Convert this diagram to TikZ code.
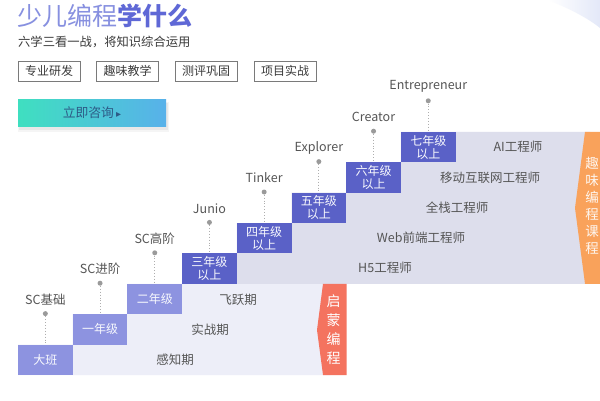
\documentclass[tikz,border=0pt]{standalone}
\usepackage{fontspec}
\setmainfont{Noto Sans CJK SC}
\newfontfamily\dejavu{DejaVu Sans}
\definecolor{titlelight}{HTML}{8790E0}
\definecolor{titledark}{HTML}{5F68D6}
\definecolor{subc}{HTML}{3A3A3A}
\definecolor{tagborder}{HTML}{7A7A7A}
\definecolor{btnL}{HTML}{3FDFC0}
\definecolor{btnR}{HTML}{58B1EA}
\definecolor{btntext}{HTML}{2D5A86}
\definecolor{stepL}{HTML}{8D93E0}
\definecolor{stepH}{HTML}{5A61C7}
\definecolor{bandL}{HTML}{EDEEF8}
\definecolor{bandH}{HTML}{DDDEEC}
\definecolor{salmon}{HTML}{F4735F}
\definecolor{orangeb}{HTML}{F9A25B}
\definecolor{labelc}{HTML}{555555}
\definecolor{dotc}{HTML}{9A9A9A}
\definecolor{decoc}{HTML}{E3E8F8}
\tikzset{
  tagbox/.style={draw=tagborder, line width=0.8pt, minimum width=62pt, minimum height=20pt, inner sep=0, text=subc, font=\fontsize{12}{13}\selectfont},
  lowstep/.style={fill=stepL, minimum width=54.7pt, minimum height=30.4pt, inner sep=0, text=white!94!stepL, font=\fontsize{12}{13}\selectfont, align=center},
  highstep/.style={lowstep, fill=stepH},
  lvl/.style={font=\fontsize{12.5}{14}\selectfont, text=labelc, inner sep=0},
  pin/.style={circle, fill=dotc, inner sep=0, minimum size=5pt},
  conn/.style={draw=dotc!80, dotted, line width=0.9pt},
  bandtext/.style={font=\fontsize{12.5}{14}\selectfont, text=labelc, inner sep=0},
  banner/.style={text=white, align=center, inner sep=0},
}
\begin{document}
\begin{tikzpicture}[x=1pt,y=-1pt]
\useasboundingbox (0,0) rectangle (600,400);
\fill[white] (0,0) rectangle (600,400);
% top-right decoration
\shade[left color=white, right color=decoc] (548,0) .. controls (568,8) and (588,18) .. (600,28) -- (600,0) -- cycle;

% title
\node[anchor=west, inner sep=0] (title) at (17,16) {\fontsize{25}{28}\selectfont\color{titlelight}少儿编程\textbf{\color{titledark}学什么}};
\node[anchor=west, inner sep=0, text=subc] (sub) at (18,42) {\fontsize{12.3}{14}\selectfont 六学三看一战，将知识综合运用};

% tags
\node[tagbox] (t1) at (49,71) {专业研发};
\node[tagbox] (t2) at (127.5,71) {趣味教学};
\node[tagbox] (t3) at (206,71) {测评巩固};
\node[tagbox] (t4) at (285,71) {项目实战};

% consult button
\fill[black, opacity=0.04] (18,102) rectangle (169,132);
\fill[black, opacity=0.05] (19,103) rectangle (168,130);
\node[minimum width=148pt, minimum height=27pt, inner sep=0, left color=btnL, right color=btnR, text=btntext, font=\fontsize{12.8}{14}\selectfont] (btn) at (92,113) {立即咨询\,{\dejavu\fontsize{10}{10}\selectfont ▸}};

% bands
\fill[bandL] (18,375) -- (330,375) -- (330,283.8) -- (127.4,283.8) -- (127.4,314.2) -- (72.7,314.2) -- (72.7,344.6) -- (18,344.6) -- cycle;
\fill[bandH] (182.1,283.8) -- (590,283.8) -- (590,131.8) -- (400.9,131.8) -- (400.9,162.2) -- (346.2,162.2) -- (346.2,192.6) -- (291.5,192.6) -- (291.5,223) -- (236.8,223) -- (236.8,253.4) -- (182.1,253.4) -- cycle;

% banners
\fill[salmon] (323,283.8) -- (346.5,283.8) -- (346.5,375) -- (323,375) -- (317,330) -- cycle;
\node[banner, font=\fontsize{14}{19}\selectfont] (qm) at (333.5,330) {启\\蒙\\编\\程};
\fill[orangeb] (585,131.8) -- (600,131.8) -- (600,283.8) -- (585,283.8) -- (575,208) -- cycle;
\node[banner, font=\fontsize{13.5}{17}\selectfont, text=white!90!orangeb] (qw) at (592,206) {趣\\味\\编\\程\\课\\程};

% steps
\node[lowstep]  (s0) at (45.35,359.8) {大班};
\node[lowstep]  (s1) at (100.05,329.4) {一年级};
\node[lowstep]  (s2) at (154.75,299.0) {二年级};
\node[highstep] (s3) at (209.45,268.6) {三年级\\以上};
\node[highstep] (s4) at (264.15,238.2) {四年级\\以上};
\node[highstep] (s5) at (318.85,207.8) {五年级\\以上};
\node[highstep] (s6) at (373.55,177.4) {六年级\\以上};
\node[highstep] (s7) at (428.25,147.0) {七年级\\以上};

% level pins and labels
\node[pin] (p0) at (45.35,313.6) {};
\node[pin] (p1) at (100.05,283.2) {};
\node[pin] (p2) at (154.75,252.8) {};
\node[pin] (p3) at (209.45,222.4) {};
\node[pin] (p4) at (264.15,192.0) {};
\node[pin] (p5) at (318.85,161.6) {};
\node[pin] (p6) at (373.55,131.2) {};
\node[pin] (p7) at (428.25,100.8) {};
\draw[conn] (p0) -- (s0.north);
\draw[conn] (p1) -- (s1.north);
\draw[conn] (p2) -- (s2.north);
\draw[conn] (p3) -- (s3.north);
\draw[conn] (p4) -- (s4.north);
\draw[conn] (p5) -- (s5.north);
\draw[conn] (p6) -- (s6.north);
\draw[conn] (p7) -- (s7.north);
\node[lvl] (l0) at (45.35,299.5) {SC基础};
\node[lvl] (l1) at (100.05,269.1) {SC进阶};
\node[lvl] (l2) at (154.75,238.7) {SC高阶};
\node[lvl] (l3) at (209.45,208.3) {Junio};
\node[lvl] (l4) at (264.15,177.9) {Tinker};
\node[lvl] (l5) at (318.85,147.5) {Explorer};
\node[lvl] (l6) at (373.55,117.1) {Creator};
\node[lvl] (l7) at (428.25,86.7) {Entrepreneur};

% band texts
\node[bandtext] (b0) at (175,360) {感知期};
\node[bandtext] (b1) at (210,330) {实战期};
\node[bandtext] (b2) at (238,300) {飞跃期};
\node[bandtext] (b3) at (385,268) {H5工程师};
\node[bandtext] (b4) at (421,238) {Web前端工程师};
\node[bandtext] (b5) at (457,208) {全栈工程师};
\node[bandtext] (b6) at (490,178) {移动互联网工程师};
\node[bandtext] (b7) at (518,147) {AI工程师};
\end{tikzpicture}
\end{document}
